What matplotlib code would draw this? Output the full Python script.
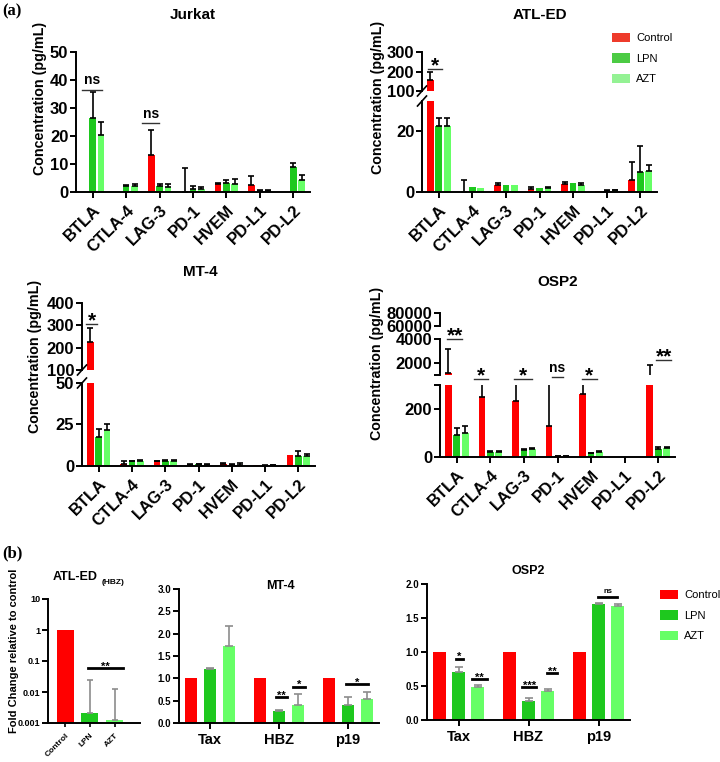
import matplotlib.pyplot as plt
import numpy as np
from matplotlib.patches import Patch

plt.rcParams["font.family"] = ["Liberation Sans", "DejaVu Sans"]
plt.rcParams["font.weight"] = "bold"
plt.rcParams["axes.linewidth"] = 1.4

W, H = 720, 762  # canvas in pixels (dpi 100)

MARKERS = ["BTLA", "CTLA-4", "LAG-3", "PD-1", "HVEM", "PD-L1", "PD-L2"]
GENES = ["Tax", "HBZ", "p19"]
TREATMENTS = ["Control", "LPN", "AZT"]
COLORS = ["#ff0000", "#1ec81e", "#66ff66"]
LEGEND_A_COLORS = ["#ee3b2b", "#4ccb44", "#94f294"]

# ---- panel (a): soluble checkpoint concentration, pg/mL ----
jurkat_ctrl = [0, 0, 13.3, 0, 2.7, 2.6, 0]
jurkat_ctrl_err = [0, 0, 9.0, 8.6, 0.4, 3.2, 0]
jurkat_lpn = [26.6, 2.2, 2.2, 1.1, 3.2, 0.4, 9.0]
jurkat_lpn_err = [9.2, 0.4, 0.8, 0.9, 1.2, 0.2, 1.3]
jurkat_azt = [20.5, 2.0, 1.8, 1.1, 2.7, 0.5, 4.4]
jurkat_azt_err = [4.6, 0.7, 0.9, 0.7, 2.0, 0.2, 1.8]

atled_ctrl = [155, 0, 2.2, 1.0, 2.6, 0.4, 3.8]
atled_ctrl_err = [42, 3.8, 0.8, 0.6, 0.8, 0, 6.2]
atled_lpn = [21.8, 1.5, 2.3, 1.3, 3.0, 0.4, 6.6]
atled_lpn_err = [2.5, 0, 0, 0, 0, 0.2, 8.6]
atled_azt = [21.8, 1.3, 2.2, 1.3, 2.2, 0.5, 6.8]
atled_azt_err = [2.5, 0, 0, 0.5, 0.9, 0.3, 2.2]

mt4_ctrl = [225, 1.3, 2.8, 0.8, 1.2, 0.4, 6.5]
mt4_ctrl_err = [62, 1.5, 0.3, 0.2, 0.7, 0, 0]
mt4_lpn = [17.5, 2.8, 3.2, 1.0, 0.9, 0, 6.0]
mt4_lpn_err = [4.9, 0.4, 0.6, 0.5, 0.6, 0.6, 3.2]
mt4_azt = [21.6, 3.0, 3.3, 0.8, 0.8, 0.4, 6.0]
mt4_azt_err = [3.4, 0.4, 0.5, 0.5, 0.8, 0.3, 1.5]

osp2_ctrl = [1200, 250, 235, 130, 263, 0, 600]
osp2_ctrl_err = [2000, 90, 120, 250, 80, 0, 1200]
osp2_lpn = [92, 20, 28, 5, 15, 0, 32]
osp2_lpn_err = [28, 5, 4, 1, 3, 0, 8]
osp2_azt = [100, 20, 32, 5, 20, 0, 38]
osp2_azt_err = [28, 3, 4, 1, 3, 0, 5]

# ---- panel (b): fold change relative to control ----
hbz_atled = [1.0, 0.0021, 0.00125]
hbz_atled_err = [0, 0.0224, 0.0113]

mt4b_ctrl = [1.0, 1.0, 1.0]
mt4b_lpn = [1.20, 0.26, 0.40]
mt4b_lpn_err = [0.04, 0.02, 0.18]
mt4b_azt = [1.72, 0.41, 0.54]
mt4b_azt_err = [0.46, 0.25, 0.15]

osp2b_ctrl = [1.0, 1.0, 1.0]
osp2b_lpn = [0.71, 0.28, 1.70]
osp2b_lpn_err = [0.07, 0.04, 0.02]
osp2b_azt = [0.48, 0.42, 1.68]
osp2b_azt_err = [0.04, 0.04, 0.02]


def rect(x0, x1, y0, y1):
    """Axes box from pixel edges (left, right, top, bottom)."""
    return [x0 / W, 1 - y1 / H, (x1 - x0) / W, (y1 - y0) / H]


def ftext(fig, x, y, s, **kw):
    kw.setdefault("ha", "center")
    kw.setdefault("va", "center")
    fig.text(x / W, 1 - y / H, s, **kw)


def draw_bars(ax, series, errors, step, width, ecolor="black", elw=1.2, cap=2):
    x = np.arange(len(series[0]))
    for k, (vals, errs, col) in enumerate(zip(series, errors, COLORS)):
        pos = x + (k - 1) * step
        vals = np.asarray(vals, float)
        errs = np.asarray(errs, float)
        ax.bar(pos, vals, width, color=col, zorder=2)
        m = errs > 0
        if m.any():
            ax.errorbar(pos[m], vals[m], yerr=[np.zeros(m.sum()), errs[m]], fmt="none",
                        ecolor=ecolor, elinewidth=elw, capsize=cap, capthick=elw, zorder=3)


def seg_axes(fig, x0, x1, yt, yb, ylim, yticks, ylabels, bottom, fs=12, log=False):
    ax = fig.add_axes(rect(x0, x1, yt, yb))
    if log:
        ax.set_yscale("log")
    ax.set_ylim(*ylim)
    ax.set_yticks(yticks)
    ax.set_yticklabels(ylabels)
    ax.minorticks_off()
    ax.spines[["top", "right"]].set_visible(False)
    ax.tick_params(axis="y", labelsize=fs, width=1.4, length=4, pad=1.5)
    ax.tick_params(axis="x", width=1.4, length=4)
    ax.patch.set_alpha(0)
    if not bottom:
        ax.spines["bottom"].set_visible(False)
        ax.tick_params(axis="x", bottom=False, labelbottom=False)
    return ax


def slash(ax, yfrac):
    bb = ax.get_position()
    dx = 4.5 / (bb.width * W)
    dy = 5.0 / (bb.height * H)
    ax.plot([-dx, dx], [yfrac - dy, yfrac + dy], transform=ax.transAxes,
            color="black", lw=1.2, clip_on=False, zorder=5)


def sig(ax, x1, x2, y, label, fs, lw=1.0, color="#333333", dy=-1.5):
    ax.plot([x1, x2], [y, y], color=color, lw=lw, clip_on=False, zorder=4)
    ax.annotate(label, xy=((x1 + x2) / 2, y), xytext=(0, dy), textcoords="offset points",
                ha="center", va="baseline", fontsize=fs, annotation_clip=False)


def xaxis_a(ax):
    ax.set_xlim(-0.5, 6.5)
    ax.set_xticks(np.arange(len(MARKERS)))
    ax.set_xticklabels(MARKERS, rotation=45, ha="right", rotation_mode="anchor", fontsize=12)


def legend(fig, colors, x, y):
    fig.legend(handles=[Patch(facecolor=c, label=t) for c, t in zip(colors, TREATMENTS)],
               loc="upper left", bbox_to_anchor=(x / W, 1 - y / H), frameon=False,
               prop=dict(size=8, weight="normal"), handlelength=1.6, handleheight=0.9,
               labelspacing=0.9, handletextpad=0.6, borderpad=0, borderaxespad=0)


fig = plt.figure(figsize=(W / 100, H / 100), dpi=100)

STEP_A, WIDTH_A = 0.25, 0.2

# ---------------- Jurkat ----------------
ax = seg_axes(fig, 76, 310, 52, 192, (0, 50), [0, 10, 20, 30, 40, 50],
              ["0", "10", "20", "30", "40", "50"], True)
draw_bars(ax, [jurkat_ctrl, jurkat_lpn, jurkat_azt],
          [jurkat_ctrl_err, jurkat_lpn_err, jurkat_azt_err], STEP_A, WIDTH_A)
xaxis_a(ax)
sig(ax, -0.32, 0.28, 36.5, "ns", 10, dy=4)
sig(ax, 1.48, 1.99, 24.6, "ns", 10, dy=4)
ftext(fig, 193, 15, "Jurkat", fontsize=11)
ftext(fig, 40, 98, "Concentration (pg/mL)", fontsize=10.3, rotation=90)

# ---------------- ATL-ED ----------------
series = [atled_ctrl, atled_lpn, atled_azt]
errs = [atled_ctrl_err, atled_lpn_err, atled_azt_err]
up = seg_axes(fig, 422, 657, 52, 91, (100, 300), [100, 200, 300], ["100", "200", "300"], False)
lo = seg_axes(fig, 422, 657, 101, 192, (0, 30), [0, 20], ["0", "20"], True)
for a in (up, lo):
    draw_bars(a, series, errs, STEP_A, WIDTH_A)
    a.set_xlim(-0.5, 6.5)
xaxis_a(lo)
slash(up, 0)
slash(lo, 1)
sig(up, -0.32, 0.10, 213, "*", 15)
ftext(fig, 540, 15, "ATL-ED", fontsize=11)
ftext(fig, 378, 97, "Concentration (pg/mL)", fontsize=10.3, rotation=90)
legend(fig, LEGEND_A_COLORS, 612, 33)

# ---------------- MT-4 (a) ----------------
series = [mt4_ctrl, mt4_lpn, mt4_azt]
errs = [mt4_ctrl_err, mt4_lpn_err, mt4_azt_err]
up = seg_axes(fig, 82, 315, 303, 370, (100, 400), [100, 200, 300, 400],
              ["100", "200", "300", "400"], False)
lo = seg_axes(fig, 82, 315, 383, 466, (0, 50), [0, 25, 50], ["0", "25", "50"], True)
for a in (up, lo):
    draw_bars(a, series, errs, STEP_A, WIDTH_A)
    a.set_xlim(-0.5, 6.5)
xaxis_a(lo)
slash(up, 0)
slash(lo, 1)
sig(up, -0.38, -0.05, 306, "*", 15)
ftext(fig, 200, 272, "MT-4", fontsize=11)
ftext(fig, 35, 356, "Concentration (pg/mL)", fontsize=10.3, rotation=90)

# ---------------- OSP2 (a) ----------------
series = [osp2_ctrl, osp2_lpn, osp2_azt]
errs = [osp2_ctrl_err, osp2_lpn_err, osp2_azt_err]
top = seg_axes(fig, 440, 675, 313, 326, (60000, 80000), [60000, 80000], ["60000", "80000"], False)
mid = seg_axes(fig, 440, 675, 339, 375, (1000, 4000), [1000, 2000, 4000], ["", "2000", "4000"], False)
lo = seg_axes(fig, 440, 675, 385, 457, (0, 300), [0, 200, 300], ["0", "200", ""], True)
for a in (top, mid, lo):
    draw_bars(a, series, errs, STEP_A, WIDTH_A)
    a.set_xlim(-0.5, 6.5)
xaxis_a(lo)
sig(mid, -0.29, 0.16, 4000, "**", 15)
sig(lo, 0.52, 0.94, 325, "*", 15)
sig(lo, 1.69, 2.25, 325, "*", 15)
sig(lo, 2.85, 3.15, 333, "ns", 10, dy=4)
sig(lo, 3.72, 4.17, 325, "*", 15)
sig(mid, 5.94, 6.39, 2250, "**", 15)
ftext(fig, 558, 282, "OSP2", fontsize=11)
ftext(fig, 377, 363, "Concentration (pg/mL)", fontsize=10.3, rotation=90)

# ---------------- (b) ATL-ED (HBZ) ----------------
ax = seg_axes(fig, 48, 140, 599, 723, (0.001, 10), [0.001, 0.01, 0.1, 1, 10],
              ["0.001", "0.01", "0.1", "1", "10"], True, fs=6.5, log=True)
x = np.arange(len(TREATMENTS))
ax.bar(x, hbz_atled, 0.68, color=COLORS, zorder=2)
e = np.asarray(hbz_atled_err)
m = e > 0
ax.errorbar(x[m], np.asarray(hbz_atled)[m], yerr=[np.zeros(m.sum()), e[m]], fmt="none",
            ecolor="#8c8c8c", elinewidth=1.2, capsize=2.5, capthick=1.2, zorder=3)
ax.set_xlim(-0.68, 3.0)
ax.set_xticks(x)
ax.set_xticklabels(TREATMENTS, rotation=45, ha="right", rotation_mode="anchor", fontsize=6)
ax.tick_params(axis="x", length=3, width=1.2)
sig(ax, 0.92, 2.32, 0.059, "**", 8, lw=2, color="black", dy=-1)
ftext(fig, 98, 577, "ATL-ED", fontsize=9, ha="right")
ftext(fig, 102, 583, "(HBZ)", fontsize=6, ha="left")
ftext(fig, 14, 651, "Fold Change relative to control", fontsize=8, rotation=90)


def panel_b(x0, x1, yt, yb, ymax, yticks, ctrl, lpn, lpn_err, azt, azt_err):
    ax = seg_axes(fig, x0, x1, yt, yb, (0, ymax), yticks, [f"{t:.1f}" for t in yticks],
                  True, fs=7)
    draw_bars(ax, [ctrl, lpn, azt], [[0, 0, 0], lpn_err, azt_err], 0.275, 0.185,
              ecolor="#8c8c8c", elw=1.2, cap=3)
    ax.set_xlim(-0.45, 2.45)
    ax.set_xticks(np.arange(len(GENES)))
    ax.set_xticklabels(GENES, fontsize=10.5)
    ax.tick_params(axis="x", length=4, width=1.4)
    return ax


# ---------------- (b) MT-4 ----------------
ax = panel_b(179, 379, 589, 723, 3.0, [0, 0.5, 1.0, 1.5, 2.0, 2.5, 3.0],
             mt4b_ctrl, mt4b_lpn, mt4b_lpn_err, mt4b_azt, mt4b_azt_err)
sig(ax, 0.96, 1.12, 0.58, "**", 8, lw=2, color="black", dy=-1)
sig(ax, 1.20, 1.38, 0.81, "*", 8, lw=2, color="black", dy=-1)
sig(ax, 1.97, 2.29, 0.87, "*", 8, lw=2, color="black", dy=-1)
ftext(fig, 280, 586, "MT-4", fontsize=9)

# ---------------- (b) OSP2 ----------------
ax = panel_b(427, 630, 584, 720, 2.0, [0, 0.5, 1.0, 1.5, 2.0],
             osp2b_ctrl, osp2b_lpn, osp2b_lpn_err, osp2b_azt, osp2b_azt_err)
sig(ax, -0.04, 0.06, 0.90, "*", 8, lw=2, color="black", dy=-1)
sig(ax, 0.19, 0.40, 0.60, "**", 8, lw=2, color="black", dy=-1)
sig(ax, 0.91, 1.11, 0.48, "***", 8, lw=2, color="black", dy=-1)
sig(ax, 1.27, 1.40, 0.69, "**", 8, lw=2, color="black", dy=-1)
sig(ax, 1.99, 2.27, 1.81, "ns", 5.5, lw=2, color="black", dy=3)
ftext(fig, 528, 571, "OSP2", fontsize=9)
legend(fig, COLORS, 660, 590)

# panel letters
ftext(fig, 12, 11, "(a)", fontsize=12, family=["Liberation Serif"])
ftext(fig, 12, 553, "(b)", fontsize=12, family=["Liberation Serif"])

fig.savefig("out.png", dpi=100)
